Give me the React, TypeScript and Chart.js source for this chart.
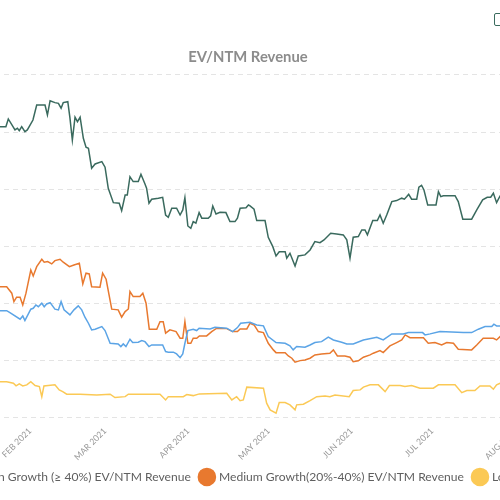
import React, { useEffect, useRef } from 'react';
import { Chart, registerables } from 'chart.js';

Chart.register(...registerables);

const FONT = 'Lato';

// x values are days counted from 1 Jan 2021 (day 0)
const monthTickDays = [-31, 0, 31, 59, 90, 120, 151, 181, 212, 243, 273];
const monthTickLabels = ['DEC 2020', 'JAN 2021', 'FEB 2021', 'MAR 2021', 'APR 2021', 'MAY 2021', 'JUN 2021', 'JUL 2021', 'AUG 2021', 'SEP 2021', 'OCT 2021'];

const seriesLabels = [
  'Overall EV/NTM Revenue',
  'High Growth (≥ 40%) EV/NTM Revenue',
  'Medium Growth(20%-40%) EV/NTM Revenue',
  'Low Growth (< 20%) EV/NTM Revenue',
];

const highDays = [17, 19.8, 22.0, 22.9, 25.4, 26.3, 27.0, 27.9, 29.1, 30.0, 32.1, 33.5, 36.6, 37.5, 38.5, 40.3, 41.6, 42.6, 43.4, 45.1, 45.9, 46.8, 47.8, 48.7, 49.7, 50.9, 51.9, 52.8, 54.0, 55.3, 57.8, 59.0, 60.2, 62.1, 64.3, 65.2, 66.5, 67.3, 68.3, 69.5, 71.4, 72.4, 73.9, 74.5, 75.4, 76.4, 78.9, 80.5, 81.6, 82.6, 83.9, 85.7, 87.0, 88.0, 88.8, 89.9, 91.0, 91.9, 92.9, 94.1, 95.1, 97.5, 98.4, 99.2, 100.4, 101.9, 104.1, 105.6, 107.5, 108.4, 109.4, 111.6, 112.5, 113.1, 114.6, 115.6, 118.7, 119.9, 121.6, 122.8, 124.0, 126.2, 126.8, 128.0, 129.9, 131.1, 133.6, 135.5, 137.3, 139.2, 140.7, 143.2, 145.4, 147.9, 149.2, 150.4, 151.6, 153.5, 154.8, 156.0, 156.9, 158.9, 160.6, 161.6, 162.8, 164.1, 166.0, 167.8, 169.7, 170.7, 171.6, 172.3, 173.4, 175.3, 176.1, 177.1, 178.0, 179.4, 182.5, 183.4, 184.3, 185.2, 189.6, 190.8, 192.5, 195.8, 197.7, 199.9, 201.6, 202.9, 203.9, 205.1, 206.4, 208];
const highValues = [30.5, 30.48, 30.48, 31.15, 30.19, 30.34, 30.13, 30.48, 30.04, 30.19, 31.06, 32.37, 32.37, 31.50, 32.75, 32.58, 32.52, 32.09, 32.58, 32.66, 31.24, 29.31, 31.30, 30.91, 31.30, 29.46, 28.68, 28.59, 26.84, 27.21, 27.42, 26.93, 25.09, 23.83, 23.78, 23.13, 24.50, 24.50, 26.10, 25.67, 25.67, 26.31, 25.47, 25.09, 23.78, 24.13, 24.22, 24.30, 22.75, 22.55, 23.34, 23.34, 22.75, 23.19, 24.27, 21.79, 21.59, 22.17, 22.03, 22.96, 22.47, 22.47, 22.67, 23.54, 22.84, 22.99, 22.96, 22.17, 22.17, 22.47, 23.34, 23.39, 23.63, 23.54, 23.25, 22.26, 22.26, 20.80, 19.98, 19.17, 19.54, 19.54, 18.97, 19.40, 18.29, 19.17, 19.26, 19.69, 20.42, 20.33, 20.57, 21.15, 21.09, 21.01, 20.57, 18.97, 20.80, 20.86, 21.44, 21.44, 21.01, 22.26, 22.26, 22.75, 22.03, 22.75, 23.92, 24.01, 24.22, 24.13, 24.36, 24.56, 24.13, 24.13, 25.18, 25.35, 24.94, 23.63, 23.63, 24.79, 24.36, 24.44, 24.44, 23.92, 22.38, 22.38, 23.19, 24.07, 24.30, 24.30, 24.65, 23.83, 24.42, 24.4];

const overallDays = [17, 19.8, 22.3, 23.5, 27.3, 28.3, 29.1, 31.3, 32.2, 33.2, 34.1, 35.4, 36.3, 37.2, 38.5, 40.3, 41.6, 42.6, 43.7, 45.9, 47.4, 49.0, 50.3, 51.5, 52.8, 54.0, 55.3, 57.8, 59.0, 60.9, 63.9, 64.9, 65.8, 66.8, 68.3, 69.3, 71.4, 72.7, 73.9, 75.4, 76.4, 80.5, 81.6, 82.6, 84.5, 85.7, 87.0, 88.0, 88.8, 89.9, 91.9, 93.2, 94.1, 98.2, 100.0, 104.4, 106.6, 108.4, 109.6, 113.1, 115.6, 118.1, 119.9, 122.8, 126.2, 128.0, 129.2, 130.5, 133.6, 135.5, 137.3, 139.8, 142.3, 144.2, 147.3, 149.2, 151.6, 155.4, 160.4, 162.8, 166.0, 170.3, 172.2, 177.5, 178.4, 180.3, 184.0, 192.7, 195.8, 198.3, 200.8, 203.3, 204.1, 205.1, 206.4, 208];
const overallValues = [14.4, 14.38, 14.38, 14.21, 13.63, 13.92, 13.51, 14.51, 14.59, 14.88, 14.73, 15.03, 14.73, 14.97, 15.08, 14.51, 14.45, 15.17, 14.45, 14.01, 14.45, 14.80, 14.45, 13.81, 13.28, 12.70, 12.76, 12.99, 12.64, 11.53, 11.47, 11.24, 11.47, 11.24, 11.88, 11.59, 11.62, 11.76, 11.67, 11.24, 11.38, 11.38, 10.80, 10.75, 10.75, 10.60, 10.27, 10.60, 11.53, 12.64, 12.76, 12.64, 12.85, 12.78, 12.93, 12.85, 12.55, 12.90, 13.28, 13.37, 13.13, 13.05, 12.11, 11.59, 11.53, 11.30, 10.95, 11.24, 11.18, 11.38, 11.59, 11.67, 12.06, 11.82, 11.62, 11.47, 11.47, 11.82, 12.06, 11.82, 12.35, 12.35, 12.46, 12.46, 12.26, 12.35, 12.55, 12.46, 12.46, 12.76, 12.99, 12.99, 13.20, 13.05, 13.05, 13.05];

const mediumDays = [17, 19.8, 22.3, 24.2, 25.0, 26.0, 27.3, 28.3, 29.5, 31.3, 32.2, 33.5, 35.4, 36.3, 37.6, 39.1, 40.3, 42.2, 43.4, 45.7, 47.4, 49.4, 50.7, 51.9, 53.1, 54.0, 57.1, 58.1, 59.4, 61.5, 63.9, 65.2, 66.5, 67.7, 68.3, 69.5, 72.0, 73.1, 74.3, 75.5, 78.3, 79.5, 80.7, 81.6, 83.2, 85.5, 87.0, 88.0, 88.8, 89.9, 91.0, 91.9, 93.2, 94.2, 96.9, 98.8, 100.7, 104.4, 106.6, 108.4, 109.4, 111.9, 113.1, 114.6, 116.2, 118.1, 119.9, 121.8, 122.8, 126.2, 127.4, 128.7, 129.9, 131.8, 133.6, 135.5, 137.3, 139.8, 142.9, 144.2, 145.7, 148.5, 150.4, 151.6, 153.5, 155.4, 157.9, 159.1, 161.6, 162.8, 165.3, 167.8, 169.7, 171.0, 172.8, 177.8, 179.6, 182.1, 184.6, 186.5, 189.0, 190.8, 195.8, 197.7, 200.1, 203.9, 205.1, 206.4, 208];
const mediumValues = [16.5, 16.48, 16.48, 15.91, 15.17, 15.56, 15.56, 14.88, 15.91, 17.94, 17.42, 18.23, 18.88, 18.62, 18.67, 18.47, 18.76, 18.88, 18.62, 18.23, 18.38, 18.53, 16.72, 17.66, 17.59, 16.48, 16.43, 17.66, 17.13, 14.51, 14.45, 13.81, 14.30, 14.53, 16.05, 15.61, 15.61, 15.91, 15.03, 12.76, 12.76, 13.42, 13.42, 12.41, 12.70, 12.55, 11.97, 11.97, 13.42, 11.53, 11.53, 11.97, 11.97, 12.17, 12.17, 12.55, 12.85, 12.81, 12.55, 12.55, 12.78, 12.78, 13.28, 13.13, 12.55, 12.46, 11.53, 10.95, 10.71, 10.71, 10.42, 10.22, 9.87, 10.01, 10.07, 10.22, 10.51, 10.60, 10.66, 10.95, 10.42, 10.42, 10.31, 9.92, 9.99, 10.31, 10.51, 10.66, 10.89, 10.71, 11.30, 11.59, 11.82, 12.26, 12.02, 12.02, 11.53, 11.59, 11.38, 11.59, 11.53, 11.01, 10.95, 11.38, 11.97, 11.97, 11.82, 12.11, 12.1];

const lowDays = [17, 19.8, 22.3, 24.8, 25.8, 27.0, 28.3, 29.8, 31.3, 32.9, 34.5, 35.4, 36.2, 40.3, 41.9, 43.2, 44.7, 49.7, 55.9, 60.9, 62.7, 66.5, 67.7, 79.5, 81.6, 82.6, 88.2, 89.5, 91.9, 94.2, 104.4, 106.3, 108.1, 109.4, 110.6, 111.9, 118.1, 119.3, 120.6, 122.8, 124.0, 126.2, 128.0, 129.9, 130.5, 133.0, 135.5, 138.0, 141.1, 142.9, 144.8, 150.1, 151.6, 154.2, 155.4, 157.9, 161.0, 163.5, 165.1, 169.1, 170.9, 173.4, 176.5, 181.5, 183.4, 189.6, 192.1, 194.0, 197.0, 198.9, 202.6, 203.9, 205.1, 206.4, 208];
const lowValues = [8.2, 8.17, 8.17, 8.03, 7.80, 7.97, 7.80, 7.89, 8.17, 7.83, 7.74, 6.86, 7.80, 7.89, 7.45, 7.30, 7.07, 7.07, 7.01, 7.07, 6.78, 6.86, 7.07, 7.07, 6.57, 6.86, 6.86, 7.04, 6.95, 7.10, 7.16, 6.57, 6.86, 6.51, 6.57, 7.69, 7.60, 6.29, 5.70, 5.41, 6.34, 6.34, 6.14, 5.70, 6.14, 6.20, 6.51, 6.86, 6.92, 6.86, 7.01, 6.86, 7.39, 7.45, 7.69, 7.89, 7.89, 7.30, 7.83, 7.83, 7.74, 7.83, 7.60, 7.60, 7.89, 7.89, 7.21, 7.39, 7.39, 7.80, 7.80, 7.51, 7.89, 8.03, 8.0];

const yTicks = [5, 10, 15, 20, 25, 30, 35];

const toPoints = (days: number[], vals: number[]) => days.map((d, i) => ({ x: d, y: vals[i] }));

export default function App() {
  const canvasRef = useRef<HTMLCanvasElement>(null);

  useEffect(() => {
    const canvas = canvasRef.current;
    if (!canvas) return;
    const colors = ['#5BA4E6', '#3A6A5E', '#E8792F', '#FBC955'];
    const sets = [
      toPoints(overallDays, overallValues),
      toPoints(highDays, highValues),
      toPoints(mediumDays, mediumValues),
      toPoints(lowDays, lowValues),
    ];
    const chart = new Chart(canvas, {
      type: 'line',
      data: {
        datasets: sets.map((data, i) => ({
          label: seriesLabels[i],
          data,
          borderColor: colors[i],
          backgroundColor: colors[i],
          borderWidth: 1.5,
          pointRadius: 0,
          tension: 0,
        })),
      },
      options: {
        responsive: false,
        animation: false,
        layout: { padding: 0 },
        plugins: {
          title: {
            display: true,
            text: 'EV/NTM Revenue',
            color: '#8c8c8c',
            font: { family: FONT, size: 14.8, weight: 'bold' },
            padding: { top: 48.3, bottom: 8.9 },
          },
          legend: {
            position: 'bottom',
            labels: {
              usePointStyle: true,
              pointStyle: 'circle',
              boxWidth: 13,
              boxHeight: 13,
              padding: 10,
              color: '#5f5f5f',
              font: { family: FONT, size: 12.1 },
            },
          },
          tooltip: { enabled: false },
        },
        scales: {
          x: {
            type: 'linear',
            min: -59.3,
            max: 298.91,
            grid: { display: false, drawTicks: false },
            border: { display: false },
            afterBuildTicks: (s: any) => {
              s.ticks = monthTickDays.map((v) => ({ value: v }));
            },
            afterFit: (s: any) => {
              s.height = 43;
            },
            ticks: {
              autoSkip: false,
              maxRotation: 45,
              minRotation: 45,
              padding: 8,
              color: '#999999',
              font: { family: FONT, size: 8.6 },
              callback: (v: any) => {
                const i = monthTickDays.indexOf(Number(v));
                return i >= 0 ? monthTickLabels[i] : '';
              },
            },
          },
          y: {
            type: 'linear',
            min: yTicks[0],
            max: yTicks[yTicks.length - 1],
            afterFit: (s: any) => {
              s.width = 40;
            },
            grid: { color: '#e4e4e4', drawTicks: false },
            border: { display: false, dash: [5, 4] },
            ticks: { stepSize: 5, padding: 8, color: '#999999', font: { family: FONT, size: 8.6 } },
          },
        },
      },
    });

    return () => chart.destroy();
  }, []);

  return (
    <div style={{ position: 'absolute', left: 0, top: 0, width: 500, height: 500, overflow: 'hidden', background: '#fff' }}>
      <canvas
        ref={canvasRef}
        width={1000}
        height={493}
        style={{ position: 'absolute', left: -252, top: 0, width: 1000, height: 493 }}
      />
      <div
        style={{
          position: 'absolute',
          left: 494,
          top: 13,
          width: 14,
          height: 13,
          border: '1.5px solid #3a6b5e',
          borderRadius: 2,
          boxSizing: 'border-box',
        }}
      />
    </div>
  );
}
